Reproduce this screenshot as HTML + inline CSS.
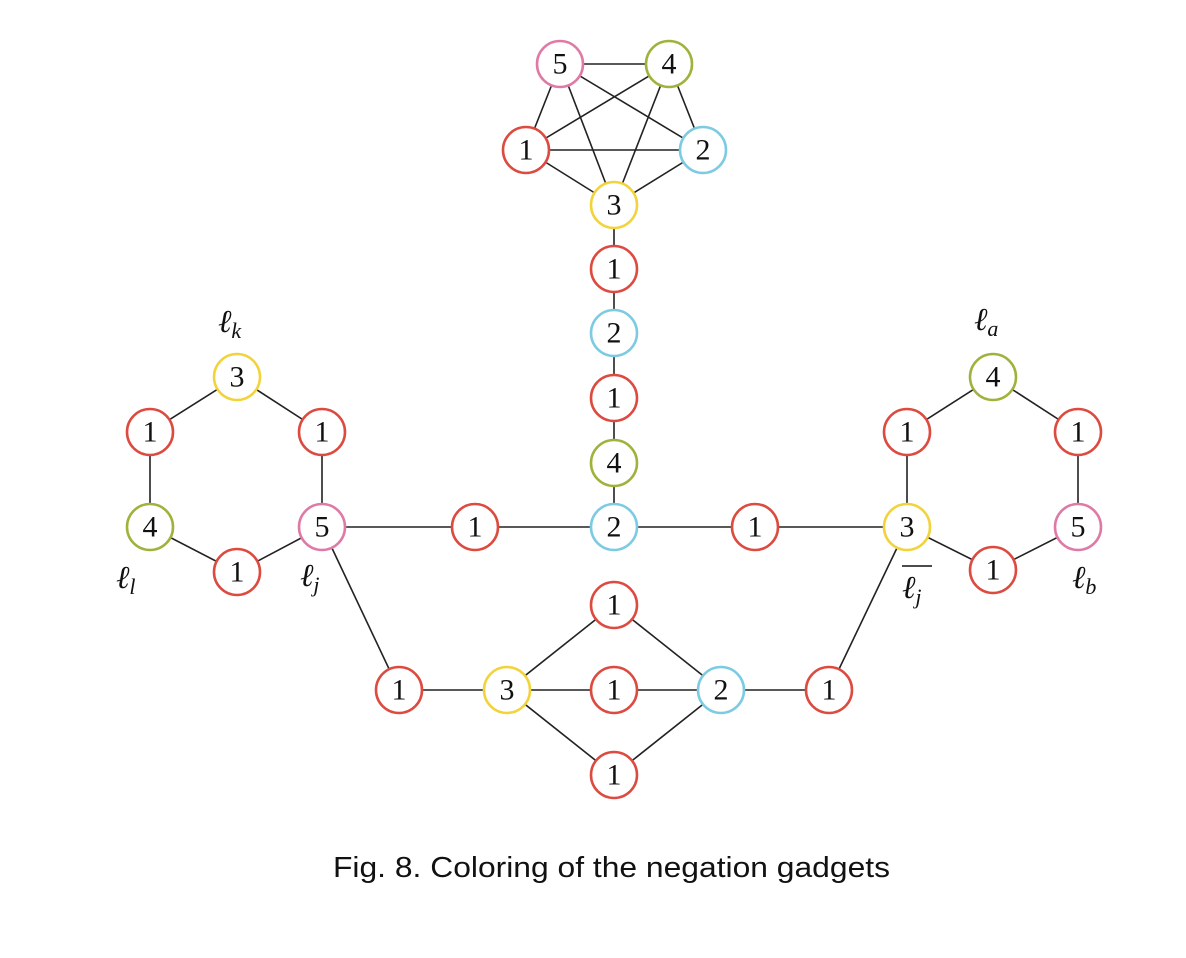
<!DOCTYPE html>
<html><head><style>
body{margin:0;background:#fff;}
svg{display:block}
.n text{font-family:"Liberation Serif",serif;font-size:30px;text-anchor:middle;dominant-baseline:central;fill:#111}
.lab{font-family:"Liberation Serif",serif;font-style:italic;font-size:32px;fill:#111}
.sub{font-size:22px}
</style></head><body>
<svg width="1186" height="958" viewBox="0 0 1186 958" xmlns="http://www.w3.org/2000/svg">
<g stroke="#222" stroke-width="1.6">
<line x1="560" y1="64" x2="669" y2="64"/><line x1="560" y1="64" x2="526" y2="150"/><line x1="560" y1="64" x2="703" y2="150"/><line x1="560" y1="64" x2="614" y2="205"/>
<line x1="669" y1="64" x2="526" y2="150"/><line x1="669" y1="64" x2="703" y2="150"/><line x1="669" y1="64" x2="614" y2="205"/>
<line x1="526" y1="150" x2="703" y2="150"/><line x1="526" y1="150" x2="614" y2="205"/><line x1="703" y1="150" x2="614" y2="205"/>
<line x1="614" y1="205" x2="614" y2="527"/>
<line x1="322" y1="527" x2="906" y2="527"/>
<polyline fill="none" points="237,377 322,432 322,527 237,572 150,527 150,432 237,377"/>
<polyline fill="none" points="993,377 1078,432 1078,527 993,570 907,527 907,432 993,377"/>
<line x1="322" y1="527" x2="399" y2="690"/><line x1="907" y1="527" x2="829" y2="690"/>
<line x1="399" y1="690" x2="829" y2="690"/>
<line x1="507" y1="690" x2="614" y2="605"/><line x1="507" y1="690" x2="614" y2="775"/>
<line x1="721" y1="690" x2="614" y2="605"/><line x1="721" y1="690" x2="614" y2="775"/>
</g>
<g class="n" stroke-width="2.6" fill="#fff">
<g stroke="#df7aa6"><circle cx="560" cy="64" r="23"/><circle cx="322" cy="527" r="23"/><circle cx="1078" cy="527" r="23"/></g>
<g stroke="#a0b23c"><circle cx="669" cy="64" r="23"/><circle cx="614" cy="463" r="23"/><circle cx="150" cy="527" r="23"/><circle cx="993" cy="377" r="23"/></g>
<g stroke="#7ccbe3"><circle cx="703" cy="150" r="23"/><circle cx="614" cy="333" r="23"/><circle cx="614" cy="527" r="23"/><circle cx="721" cy="690" r="23"/></g>
<g stroke="#f2d33c"><circle cx="614" cy="205" r="23"/><circle cx="237" cy="377" r="23"/><circle cx="907" cy="527" r="23"/><circle cx="507" cy="690" r="23"/></g>
<g stroke="#dc4a40"><circle cx="526" cy="150" r="23"/><circle cx="614" cy="269" r="23"/><circle cx="614" cy="398" r="23"/>
<circle cx="150" cy="432" r="23"/><circle cx="322" cy="432" r="23"/><circle cx="237" cy="572" r="23"/>
<circle cx="475" cy="527" r="23"/><circle cx="755" cy="527" r="23"/>
<circle cx="907" cy="432" r="23"/><circle cx="1078" cy="432" r="23"/><circle cx="993" cy="570" r="23"/>
<circle cx="399" cy="690" r="23"/><circle cx="614" cy="605" r="23"/><circle cx="614" cy="690" r="23"/><circle cx="614" cy="775" r="23"/><circle cx="829" cy="690" r="23"/></g>
<text x="560" y="64">5</text><text x="669" y="64">4</text><text x="526" y="150">1</text><text x="703" y="150">2</text><text x="614" y="205">3</text>
<text x="614" y="269">1</text><text x="614" y="333">2</text><text x="614" y="398">1</text><text x="614" y="463">4</text><text x="614" y="527">2</text>
<text x="237" y="377">3</text><text x="150" y="432">1</text><text x="322" y="432">1</text><text x="150" y="527">4</text><text x="322" y="527">5</text><text x="237" y="572">1</text>
<text x="475" y="527">1</text><text x="755" y="527">1</text>
<text x="993" y="377">4</text><text x="907" y="432">1</text><text x="1078" y="432">1</text><text x="907" y="527">3</text><text x="1078" y="527">5</text><text x="993" y="570">1</text>
<text x="399" y="690">1</text><text x="507" y="690">3</text><text x="614" y="605">1</text><text x="614" y="690">1</text><text x="614" y="775">1</text><text x="721" y="690">2</text><text x="829" y="690">1</text>
</g>
<text class="lab" x="218" y="332">ℓ<tspan class="sub" dy="6">k</tspan></text>
<text class="lab" x="116" y="588">ℓ<tspan class="sub" dy="6">l</tspan></text>
<text class="lab" x="300" y="586">ℓ<tspan class="sub" dy="6">j</tspan></text>
<text class="lab" x="974" y="330">ℓ<tspan class="sub" dy="6">a</tspan></text>
<text class="lab" x="1072" y="588">ℓ<tspan class="sub" dy="6">b</tspan></text>
<line x1="902" y1="566" x2="932" y2="566" stroke="#111" stroke-width="1.6"/>
<text class="lab" x="902" y="598">ℓ<tspan class="sub" dy="6">j</tspan></text>
<text x="333" y="877" textLength="557" lengthAdjust="spacingAndGlyphs" font-family="Liberation Sans, sans-serif" font-size="29" fill="#111">Fig. 8.  Coloring of the negation gadgets</text>
</svg>
</body></html>
